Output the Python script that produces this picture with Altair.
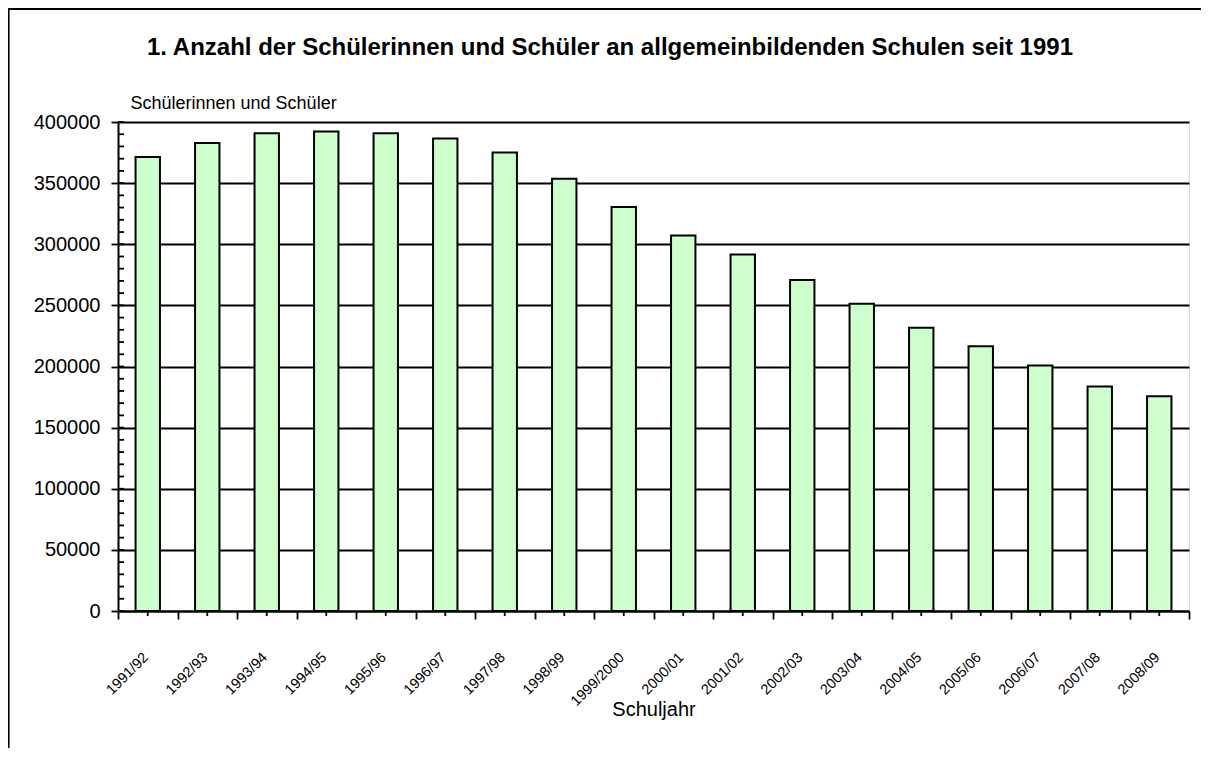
import altair as alt
import pandas as pd

# ---- data ----
schuljahre = ["1991/92", "1992/93", "1993/94", "1994/95", "1995/96", "1996/97",
              "1997/98", "1998/99", "1999/2000", "2000/01", "2001/02", "2002/03",
              "2003/04", "2004/05", "2005/06", "2006/07", "2007/08", "2008/09"]
schueler = [371300, 382800, 390700, 392300, 390700, 386600,
            375100, 353600, 330400, 307100, 291600, 270700,
            251300, 231600, 216600, 200800, 183600, 175700]
y_major = [0, 50000, 100000, 150000, 200000, 250000, 300000, 350000, 400000]
y_minor = [v * 10000 for v in range(0, 41)]

title_text = "1. Anzahl der Schülerinnen und Schüler an allgemeinbildenden Schulen seit 1991"
y_title = "Schülerinnen und Schüler"
x_title = "Schuljahr"

FONT = "Liberation Sans"
W, H = 1071, 489

df = pd.DataFrame({"Schuljahr": schuljahre, "Anzahl": schueler})
df_minor = pd.DataFrame({"Anzahl": y_minor})

x_scale = alt.Scale(domain=schuljahre, paddingInner=0, paddingOuter=0)
y_scale = alt.Scale(domain=[0, 400000], nice=False)

x_axis = alt.Axis(
    title=x_title, titleFont=FONT, titleFontSize=20, titleFontWeight="normal",
    titleColor="black", titleY=104, titleBaseline="alphabetic",
    labelFont=FONT, labelFontSize=14.5, labelColor="black",
    labelAngle=-45, labelAlign="right", labelBaseline="middle",
    labelPadding=36, labelOffset=-2, tickBand="extent", tickSize=8, tickWidth=1.8,
    tickColor="black", domainColor="black", domainWidth=2,
    grid=False, labelOverlap=False)

y_axis = alt.Axis(
    title=y_title, titleFont=FONT, titleFontSize=18, titleFontWeight="normal",
    titleColor="black", titleAngle=0, titleAlign="left",
    titleBaseline="alphabetic", titleX=12, titleY=-14,
    values=y_major, format="d",
    labelFont=FONT, labelFontSize=20, labelColor="black", labelPadding=11,
    tickSize=7, tickWidth=1.8, tickColor="black",
    domainColor="black", domainWidth=2,
    grid=True, gridColor="black", gridWidth=1.8, gridOpacity=1)

bars = alt.Chart(df).mark_bar(
    fill="#CCFFCC", stroke="black", strokeWidth=2,
    width=alt.RelativeBandSize(0.41)
).encode(
    x=alt.X("Schuljahr:N", scale=x_scale, sort=schuljahre, axis=x_axis),
    y=alt.Y("Anzahl:Q", scale=y_scale, axis=y_axis),
)

minor_y = alt.Chart(df_minor).mark_rule(color="black", strokeWidth=1.8).encode(
    y=alt.Y("Anzahl:Q", scale=y_scale, axis=y_axis),
    x=alt.value(0), x2=alt.value(6),
)

minor_x = alt.Chart(df).mark_rule(color="black", strokeWidth=1.8).encode(
    x=alt.X("Schuljahr:N", scale=x_scale, sort=schuljahre, axis=x_axis),
    y=alt.value(H), y2=alt.value(H + 5),
)

frame = alt.Chart(alt.Data(values=[{"f": 1}])).mark_rect(
    filled=False, stroke="black", strokeWidth=2.2, clip=False
).encode(
    x=alt.value(-109.5), x2=alt.value(W + 60),
    y=alt.value(-113), y2=alt.value(H + 260),
)

title = alt.Chart(alt.Data(values=[{"t": title_text}])).mark_text(
    font=FONT, fontSize=24, fontWeight="bold", color="black",
    align="center", baseline="alphabetic"
).encode(
    text="t:N", x=alt.value(492), y=alt.value(-67),
)

chart = alt.layer(frame, bars, minor_y, minor_x, title).properties(
    width=W, height=H,
    autosize=alt.AutoSizeParams(type="none"),
    padding={"left": 110, "top": 114, "right": 12, "bottom": 137},
).configure_view(
    stroke="black", strokeWidth=2
).configure(background="white")

chart.save("out.html", embed_options={"renderer": "svg", "actions": False})
